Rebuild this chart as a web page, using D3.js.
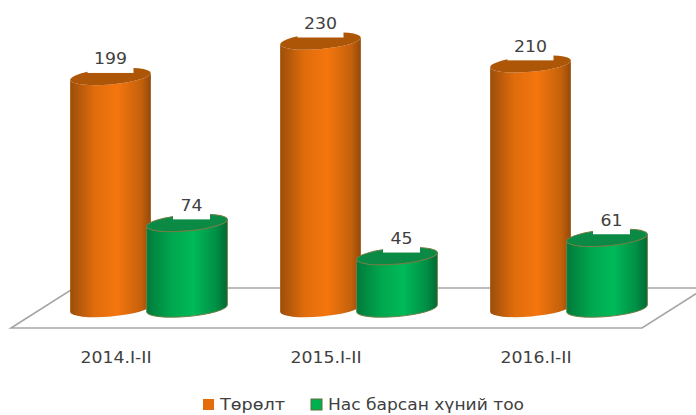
<!DOCTYPE html>
<html>
<head>
<meta charset="utf-8">
<style>
  html, body { margin: 0; padding: 0; background: #fff; }
  svg { display: block; }
  text { font-family: "DejaVu Sans", sans-serif; fill: #404040; }
</style>
<script src="https://cdn.jsdelivr.net/npm/d3@7"></script>
</head>
<body>
<svg id="chart" width="696" height="415"></svg>
<script>
// Chart data
const categories = ['2014.I-II', '2015.I-II', '2016.I-II'];
const seriesNames = ['Төрөлт', 'Нас барсан хүний тоо'];
const births = [199, 230, 210];
const deaths = [74, 45, 61];

const svg = d3.select('#chart');

// Front edge of the floor is the category axis
const x = d3.scaleBand().domain(categories).range([10, 640]);
const y = d3.scaleLinear().domain([0, 230]).range([304, 41]);

const baseY = 308.5;
const rx = 40.5, ry = 8, tilt = -5;

// Each series sits at its own offset in the fake 3D space
const series = [
    { name: seriesNames[0], values: births, dx: -4.5, dy: 0, labelDx: 0, grad: 'gradOrange', cap: '#ad5608', edge: 'none', key: '#e46c0a',
      stops: [[0, '#9c4e0a'], [0.3, '#e06c0c'], [0.58, '#f5760e'], [0.88, '#c4610b'], [1, '#94490a']] },
    { name: seriesNames[1], values: deaths, dx: 72, dy: 3.5, labelDx: 4.5, grad: 'gradGreen', cap: '#0a8a45', edge: '#6f7f45', key: '#00b050',
      stops: [[0, '#007a3a'], [0.3, '#00a64e'], [0.58, '#00ba59'], [0.86, '#008f45'], [1, '#006a33']] }
];

// Gradients
const defs = svg.append('defs');
series.forEach(s => {
    const g = defs.append('linearGradient').attr('id', s.grad)
        .attr('x1', '0%').attr('y1', '0%').attr('x2', '100%').attr('y2', '0%');
    s.stops.forEach(st => g.append('stop').attr('offset', st[0]).attr('stop-color', st[1]));
});

// Floor: a parallelogram pushed back from the axis, cut by the right edge of the page
const [x0, x1] = x.range();
const frontY = 328, backY = 288, skew = 63;
svg.append('path')
    .attr('d', d3.line()([[x1 + skew + 2, backY], [x0 + skew + 1, backY], [x0 + 1, frontY], [x1 + 2, frontY], [x1 + skew + 2, backY]]))
    .attr('fill', 'none')
    .attr('stroke', '#a6a6a6')
    .attr('stroke-width', 1.6);

// Offset of the ends of a tilted ellipse from its centre
const ex = rx * Math.cos(tilt * Math.PI / 180);
const ey = rx * Math.sin(tilt * Math.PI / 180);

function cylinder(cx, topY, s) {
    const g = svg.append('g');
    g.append('path')
        .attr('d', `M${cx - ex},${topY - ey} L${cx - ex},${baseY - ey}`
            + ` A${rx},${ry} ${tilt} 0 0 ${cx + ex},${baseY + ey}`
            + ` L${cx + ex},${topY + ey} A${rx},${ry} ${tilt} 0 1 ${cx - ex},${topY - ey} Z`)
        .attr('fill', `url(#${s.grad})`)
        .attr('stroke', s.edge)
        .attr('stroke-width', 1);
    g.append('ellipse')
        .attr('cx', cx).attr('cy', topY)
        .attr('rx', rx).attr('ry', ry)
        .attr('transform', `rotate(${tilt} ${cx} ${topY})`)
        .attr('fill', s.cap)
        .attr('stroke', s.edge)
        .attr('stroke-width', 1);
}

// Bars, group by group so the green one overlaps the orange one
categories.forEach((c, i) => {
    series.forEach(s => {
        const cx = x(c) + x.bandwidth() / 2 + s.dx;
        cylinder(cx, y(s.values[i]) + s.dy, s);
    });
});

// Value labels on white boxes, which cut into the cylinder tops
categories.forEach((c, i) => {
    series.forEach(s => {
        const cx = x(c) + x.bandwidth() / 2 + s.dx + s.labelDx;
        const top = y(s.values[i]) + s.dy;
        const label = String(s.values[i]);
        const w = label.length === 3 ? 46 : 37;
        svg.append('rect')
            .attr('x', cx - w / 2).attr('y', top - 25)
            .attr('width', w).attr('height', 21.5)
            .attr('fill', '#fff');
        svg.append('text')
            .attr('x', cx).attr('y', top - 12)
            .attr('text-anchor', 'middle')
            .attr('textLength', label.length * 11)
            .attr('lengthAdjust', 'spacingAndGlyphs')
            .style('font-size', '16px')
            .text(label);
    });
});

// Category labels
svg.selectAll('.cat')
    .data(categories)
    .enter().append('text')
    .attr('class', 'cat')
    .attr('x', d => x(d) + x.bandwidth() / 2 + 1)
    .attr('y', 362.5)
    .attr('text-anchor', 'middle')
    .attr('textLength', 71)
    .attr('lengthAdjust', 'spacingAndGlyphs')
    .style('font-size', '16px')
    .text(d => d);

// Legend
const legendX = [203, 311];
const legendWidths = [65, 196];
series.forEach((s, i) => {
    svg.append('rect')
        .attr('x', legendX[i]).attr('y', 399)
        .attr('width', 11).attr('height', 11)
        .attr('fill', s.key)
        .attr('stroke', s.edge === 'none' ? 'none' : '#5f6f3a');
    svg.append('text')
        .attr('x', legendX[i] + 17).attr('y', 409.5)
        .attr('textLength', legendWidths[i])
        .attr('lengthAdjust', 'spacingAndGlyphs')
        .style('font-size', '16px')
        .text(s.name);
});
</script>
</body>
</html>
